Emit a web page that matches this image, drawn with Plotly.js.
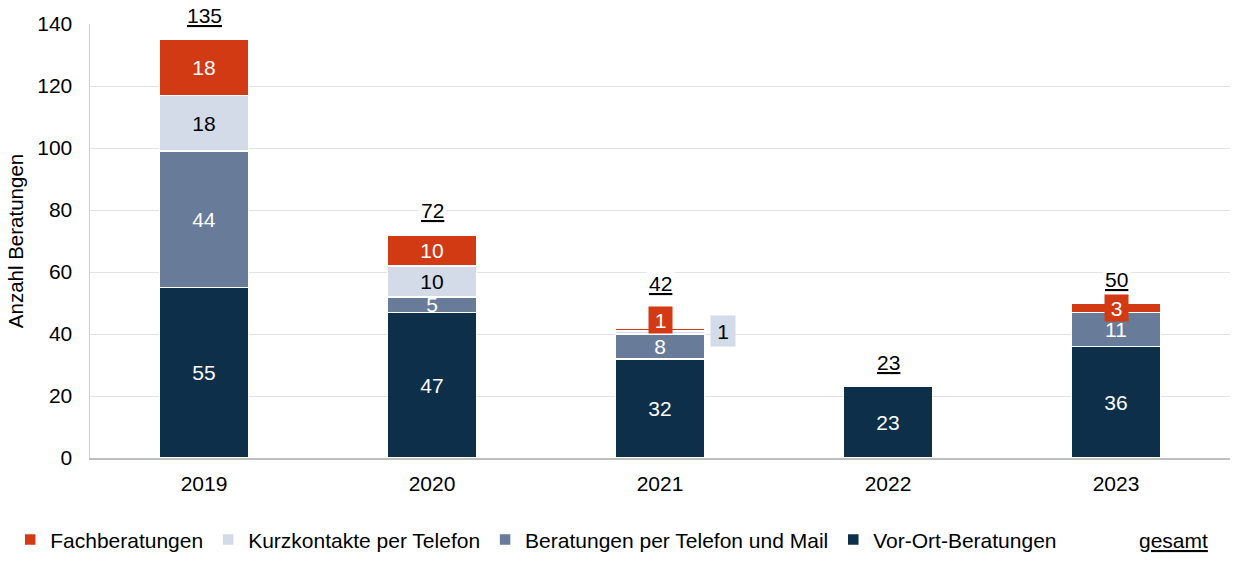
<!DOCTYPE html>
<html><head><meta charset="utf-8">
<script src="https://cdn.plot.ly/plotly-3.0.1.min.js"></script>
<style>body{margin:0;background:#fff}#c{width:1234px;height:564px}</style>
</head><body><div id="c"></div>
<script>
const years = ['2019','2020','2021','2022','2023'];
const vorOrt = [55, 47, 32, 23, 36];
const telMail = [44, 5, 8, 0, 11];
const kurz = [18, 10, 1, 0, 0];
const fach = [18, 10, 1, 0, 3];
const totals = [135, 72, 42, 23, 50];
const totalLabel = 'gesamt';

const FONT = 'Liberation Sans, Arial, sans-serif';
const colors = {fach:'#D23A13', kurz:'#D3DAE8', tel:'#687C99', vor:'#0D2F4A'};

function lbl(vals, min){ return vals.map(v => v >= min ? String(v) : ''); }

function barTrace(name, vals, color, txtColor, rank){
  return {type:'bar', name:name, x:years, y:vals, marker:{color:color, line:{color:'#fff', width:1.5}},
    text: lbl(vals, 4), textposition:'inside', insidetextanchor:'middle', textangle:0,
    constraintext:'none', textfont:{family:FONT, size:21, color:txtColor}, hoverinfo:'skip',
    legendrank: rank};
}

const data = [
  barTrace('Vor-Ort-Beratungen', vorOrt, colors.vor, '#fff', 4),
  barTrace('Beratungen per Telefon und Mail', telMail, colors.tel, '#fff', 3),
  barTrace('Kurzkontakte per Telefon', kurz, colors.kurz, '#000', 2),
  barTrace('Fachberatungen', fach, colors.fach, '#fff', 1)
];

const annotations = [];
years.forEach((yr, i) => {
  const raised = fach[i] > 0 && fach[i] < 2;
  annotations.push({x:i, y:totals[i], xref:'x', yref:'y', text:'<u>'+totals[i]+'</u>', showarrow:false,
    yanchor:'middle', yshift: raised ? 44 : 24, bgcolor:'#fff', borderpad:2,
    font:{family:FONT, size:21, color:'#000'}});
  if (fach[i] > 0 && fach[i] < 4) {
    const base = vorOrt[i] + telMail[i] + kurz[i];
    annotations.push({x:i, y: base + fach[i]/2, xref:'x', yref:'y', text:String(fach[i]), showarrow:false,
      bgcolor:colors.fach, font:{family:FONT, size:21, color:'#fff'}, borderpad:0, width:23, height:26,
      yshift: raised ? 9 : 0});
  }
  if (kurz[i] > 0 && kurz[i] < 4) {
    const base = vorOrt[i] + telMail[i];
    annotations.push({x:i, y: base + kurz[i]/2, xref:'x', yref:'y', text:String(kurz[i]), showarrow:false,
      bgcolor:colors.kurz, font:{family:FONT, size:21, color:'#000'}, borderpad:0, width:24, height:30,
      xshift:63, yshift:1});
  }
});
annotations.push({xref:'paper', yref:'paper', x:0.950, y:-0.190, text:'<u>'+totalLabel+'</u>',
  showarrow:false, xanchor:'center', yanchor:'middle', font:{family:FONT, size:21, color:'#000'}});

const layout = {
  width:1234, height:564, paper_bgcolor:'#fff', plot_bgcolor:'#fff',
  margin:{l:90, r:4, t:24, b:104},
  barmode:'stack', bargap:0.61,
  font:{family:FONT, size:21, color:'#000'},
  xaxis:{type:'category', range:[-0.5, 4.5], showline:true, linecolor:'#BFBFBF', linewidth:1.5, ticks:'', showgrid:false,
    tickfont:{family:FONT, size:21}, ticklabelstandoff:6},
  yaxis:{range:[0,140], dtick:20, showgrid:true, gridcolor:'#E3E3E3', gridwidth:1, showline:true,
    linecolor:'#D0D0D0', linewidth:1.5, zeroline:false, ticks:'', tickfont:{family:FONT, size:21},
    ticklabelstandoff:12,
    title:{text:'Anzahl Beratungen', font:{family:FONT, size:20.5}, standoff:8}},
  legend:{orientation:'h', x:-0.07, xanchor:'left', y:-0.236, yanchor:'bottom', font:{family:FONT, size:21},
    traceorder:'normal', itemwidth:30},
  annotations:annotations,
  showlegend:true
};
Plotly.newPlot('c', data, layout, {staticPlot:true});
</script></body></html>
